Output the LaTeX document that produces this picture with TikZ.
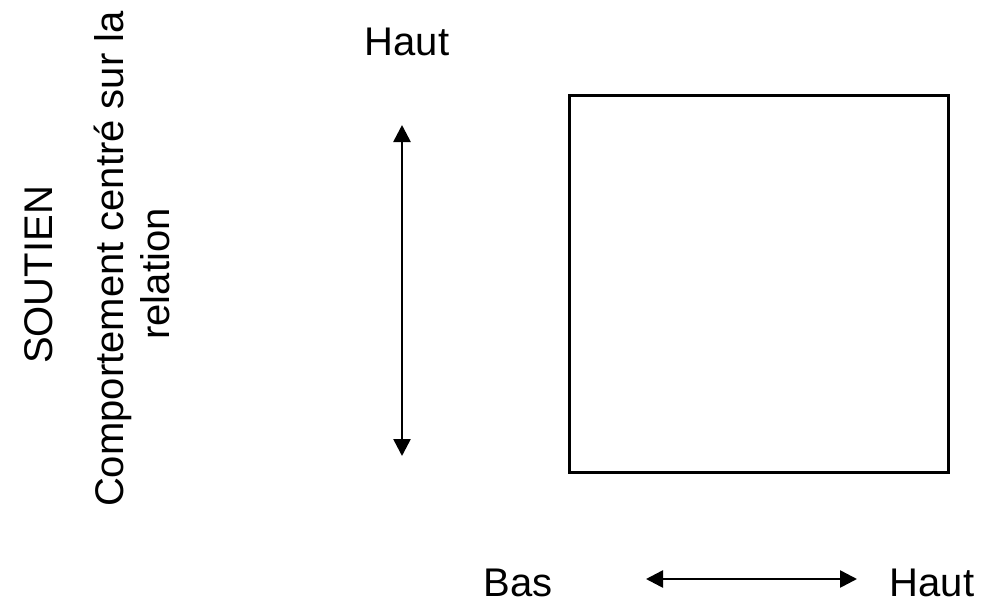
\documentclass[tikz,border=0pt]{standalone}
\usepackage{fontspec}
\setmainfont{Liberation Sans}
\usetikzlibrary{arrows.meta}
\begin{document}
\begin{tikzpicture}[x=1pt,y=-1pt,
  lbl/.style={font=\fontsize{40}{46}\selectfont, inner sep=0pt, anchor=base},
  vlbl/.style={lbl, rotate=90},
  gridbox/.style={draw, line width=3pt, rectangle, minimum width=379pt, minimum height=377pt, inner sep=0pt},
  dbl/.style={line width=2.6pt, {Triangle[length=17pt,width=17pt]}-{Triangle[length=17pt,width=17pt]}}]
  \useasboundingbox (0,0) rectangle (984,605);
  % left-hand axis captions
  \node[vlbl] (soutien) at (52,275) {SOUTIEN};
  \node[vlbl] (comp1) at (123,259) {Comportement centré sur la};
  \node[vlbl] (comp2) at (169,274) {relation};
  % axis end labels
  \node[lbl] (hautTop) at (407,55) {Haut};
  \node[lbl] (bas) at (518,596) {Bas};
  \node[lbl] (hautRight) at (932,596) {Haut};
  % square grid
  \node[gridbox] (grid) at (758.5,283.5) {};
  % double-headed axis arrows
  \coordinate (vTop) at (402,125);
  \coordinate (vBot) at (402,456);
  \coordinate (hL) at (646,579);
  \coordinate (hR) at (857,579);
  \draw[dbl] (vTop) -- (vBot);
  \draw[dbl] (hL) -- (hR);
\end{tikzpicture}
\end{document}
